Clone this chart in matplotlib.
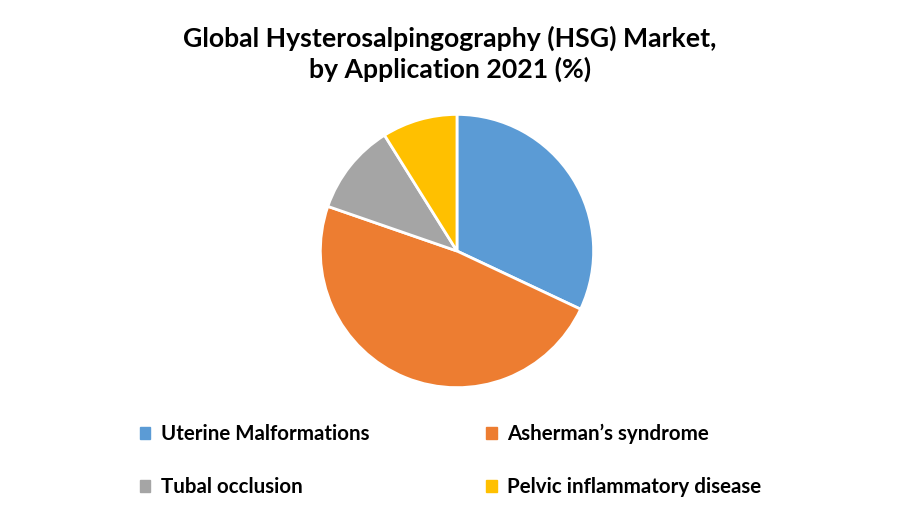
import matplotlib
matplotlib.use("Agg")
import matplotlib.pyplot as plt
import matplotlib.patches as mpatches

plt.rcParams["font.family"] = ["Lato", "DejaVu Sans"]

categories = ["Uterine Malformations", "Asherman\u2019s syndrome",
              "Tubal occlusion", "Pelvic inflammatory disease"]
shares = [32.0, 48.3, 10.8, 8.9]
colors = ["#5B9BD5", "#ED7D31", "#A5A5A5", "#FFC000"]

fig = plt.figure(figsize=(9, 5.25), dpi=100)
fig.text(0.5, 0.897, "Global Hysterosalpingography (HSG) Market,\nby Application 2021 (%)",
         ha="center", va="center", fontsize=19.2, fontweight="bold",
         linespacing=1.28)

ax = fig.add_axes([0.3544, 0.259, 0.3067, 0.5257])
ax.pie(shares, colors=colors, startangle=90, counterclock=False,
       wedgeprops=dict(edgecolor="white", linewidth=2))
ax.set_xlim(-1.01, 1.01)
ax.set_ylim(-1.01, 1.01)
ax.set_aspect("equal")

handles = [mpatches.Patch(color=c) for c in colors]
order = [0, 2, 1, 3]
leg = fig.legend([handles[i] for i in order], [categories[i] for i in order],
                 ncol=2, loc="upper left", bbox_to_anchor=(0.135, 0.228),
                 frameon=False, handlelength=0.5, handleheight=0.5,
                 handletextpad=0.5, columnspacing=5.7, labelspacing=1.62,
                 prop=dict(size=14.8, weight="bold"))

fig.savefig("out.png", dpi=100)
